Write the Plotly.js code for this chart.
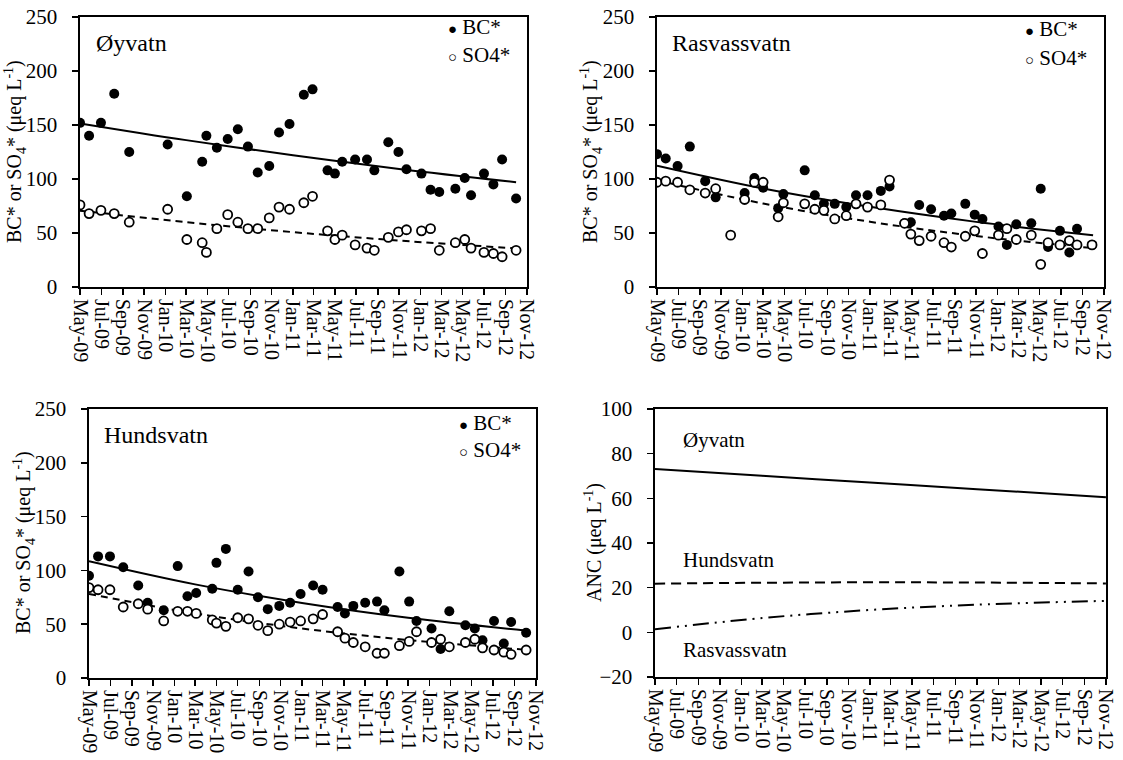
<!DOCTYPE html>
<html>
<head>
<meta charset="utf-8">
<script src="https://cdn.plot.ly/plotly-3.0.1.min.js"></script>
<style>html,body{margin:0;padding:0;background:#fff;}#chart{width:1123px;height:760px;}</style>
</head>
<body>
<div id="chart"></div>
<script>
// ---------- tick labels ----------
const tickDates = ['2009-05-01','2009-07-01','2009-09-01','2009-11-01','2010-01-01','2010-03-01','2010-05-01','2010-07-01','2010-09-01','2010-11-01','2011-01-01','2011-03-01','2011-05-01','2011-07-01','2011-09-01','2011-11-01','2012-01-01','2012-03-01','2012-05-01','2012-07-01','2012-09-01','2012-11-01'];
const tickLabels = ['May-09','Jul-09','Sep-09','Nov-09','Jan-10','Mar-10','May-10','Jul-10','Sep-10','Nov-10','Jan-11','Mar-11','May-11','Jul-11','Sep-11','Nov-11','Jan-12','Mar-12','May-12','Jul-12','Sep-12','Nov-12'];

// ---------- Øyvatn ----------
const oyDates = ['2009-05-01','2009-05-27','2009-06-30','2009-08-07','2009-09-19','2010-01-07','2010-03-03','2010-04-16','2010-04-28','2010-05-28','2010-06-28','2010-07-27','2010-08-25','2010-09-22','2010-10-25','2010-11-22','2010-12-22','2011-02-01','2011-02-26','2011-04-10','2011-05-01','2011-05-22','2011-06-28','2011-08-01','2011-08-22','2011-10-01','2011-10-30','2011-11-22','2012-01-04','2012-01-30','2012-02-24','2012-04-10','2012-05-07','2012-05-25','2012-07-01','2012-07-28','2012-08-22','2012-10-01'];
const oyBC = [152,140,152,179,125,132,84,116,140,129,137,146,130,106,112,143,151,178,183,108,105,116,118,118,108,134,125,109,105,90,88,91,101,85,105,95,118,82];
const oySO4 = [76,68,71,68,60,72,44,41,32,54,67,60,54,54,64,74,72,78,84,52,44,48,39,36,34,46,51,53,52,54,34,41,44,36,32,31,28,34];

// ---------- Rasvassvatn ----------
const raDates = ['2009-05-01','2009-05-26','2009-06-29','2009-08-03','2009-09-16','2009-10-16','2009-11-28','2010-01-07','2010-02-04','2010-03-01','2010-04-13','2010-04-28','2010-06-28','2010-07-27','2010-08-22','2010-09-22','2010-10-25','2010-11-22','2010-12-25','2011-02-01','2011-02-26','2011-04-10','2011-04-28','2011-05-22','2011-06-25','2011-08-01','2011-08-22','2011-10-01','2011-10-28','2011-11-19','2012-01-04','2012-01-28','2012-02-24','2012-04-07','2012-05-04','2012-05-25','2012-06-28','2012-07-25','2012-08-16','2012-09-28'];
const raBC = [123,119,112,130,98,83,null,87,101,92,73,86,108,85,77,77,74,85,85,89,93,59,60,76,72,66,68,77,67,63,56,39,58,59,91,37,52,32,54,39];
const raSO4 = [97,98,97,90,87,91,48,81,97,97,65,78,77,72,71,63,66,77,74,76,99,59,49,43,47,41,37,47,52,31,48,54,44,48,21,41,39,43,39,39];

// ---------- Hundsvatn ----------
const huDates = ['2009-05-01','2009-05-27','2009-06-30','2009-08-07','2009-09-19','2009-10-16','2009-12-01','2010-01-10','2010-02-07','2010-03-04','2010-04-19','2010-05-01','2010-05-28','2010-07-01','2010-08-01','2010-08-28','2010-09-25','2010-10-28','2010-11-28','2010-12-28','2011-02-02','2011-03-01','2011-04-13','2011-05-04','2011-05-28','2011-07-01','2011-08-04','2011-08-25','2011-10-07','2011-11-04','2011-11-25','2012-01-07','2012-02-02','2012-02-27','2012-04-13','2012-05-10','2012-06-01','2012-07-04','2012-08-01','2012-08-22','2012-10-04'];
const huBC = [95,113,113,103,86,70,63,104,76,79,83,107,120,82,99,75,64,67,70,78,86,82,66,60,67,70,71,63,99,71,53,46,27,62,49,46,35,53,32,52,42];
const huSO4 = [84,82,82,66,69,64,53,62,62,60,54,51,48,56,55,49,44,50,52,53,55,59,43,37,33,29,23,23,30,34,43,33,36,29,33,36,28,26,24,22,26];

// ---------- trend lines ----------
const trendDates = ['2009-05-01','2010-03-01','2011-01-01','2011-11-01','2012-10-01'];
const oyBCtrend = [151.5,136,122,109.3,97];
const oySO4trend = [70.7,60,50.8,43,35.8];
const raBCtrend = [112.3,91.2,74.2,60.3,47.9];
const raSO4trend = [98.8,77.3,60.4,47.2,36];
const huBCtrend = [108.5,87,69.8,56,44.2];
const huSO4trend = [78.2,60,46,35.3,26.3];

// ---------- ANC panel ----------
const ancDates = ['2009-05-01','2010-03-01','2011-01-01','2011-11-01','2012-11-01'];
const ancOy = [73.1,70.1,67.1,64.1,60.5];
const ancHu = [21.8,22.2,22.4,22.3,21.9];
const ancRa = [1.4,6.4,10.0,12.4,14.1];

// ---------- layout helpers ----------
const FONT = 'Liberation Serif, Tinos, Times New Roman, serif';
const W = 1123, H = 760;
const px = v => v / W;
const py = v => 1 - v / H;

function xAxis(x0, x1, anchor) {
  return {
    domain: [px(x0), px(x1)], anchor: anchor, type: 'date',
    range: ['2009-05-01', '2012-11-01 06:00'],
    tickmode: 'array', tickvals: tickDates, ticktext: tickLabels, tickangle: 90,
    ticks: 'outside', ticklen: 6, tickwidth: 1.5, tickcolor: '#000',
    showline: true, linecolor: '#000', linewidth: 2, mirror: true,
    showgrid: false, zeroline: false,
    tickfont: {family: FONT, size: 20, color: '#000'}
  };
}
function yAxis(y0, y1, anchor, range, dtick) {
  return {
    domain: [py(y1), py(y0)], anchor: anchor, range: range, dtick: dtick, tick0: 0,
    ticks: 'outside', ticklen: 6, tickwidth: 1.5, tickcolor: '#000',
    ticksuffix: '\u00a0\u00a0',
    showline: true, linecolor: '#000', linewidth: 2, mirror: true,
    showgrid: false, zeroline: false,
    tickfont: {family: FONT, size: 21, color: '#000'}
  };
}

const ytitle = 'BC* or SO<sub>4</sub>* (μeq L<sup>-1</sup>)';
const anctitle = 'ANC (μeq L<sup>-1</sup>)';
const filled = {symbol: 'circle', size: 10, color: '#000'};
const open = {symbol: 'circle', size: 9, color: '#fff', line: {color: '#000', width: 1.8}};

function lakeTraces(xa, ya, dates, bc, so4, bct, so4t) {
  return [
    {type: 'scatter', mode: 'markers', x: dates, y: bc, xaxis: xa, yaxis: ya, marker: filled, name: 'BC*', showlegend: false},
    {type: 'scatter', mode: 'lines', x: trendDates, y: bct, xaxis: xa, yaxis: ya, line: {color: '#000', width: 2, shape: 'spline'}, showlegend: false},
    {type: 'scatter', mode: 'lines', x: trendDates, y: so4t, xaxis: xa, yaxis: ya, line: {color: '#000', width: 2, dash: '7px,5px', shape: 'spline'}, showlegend: false},
    {type: 'scatter', mode: 'markers', x: dates, y: so4, xaxis: xa, yaxis: ya, marker: open, name: 'SO4*', showlegend: false}
  ];
}

const data = [].concat(
  lakeTraces('x', 'y', oyDates, oyBC, oySO4, oyBCtrend, oySO4trend),
  lakeTraces('x2', 'y2', raDates, raBC, raSO4, raBCtrend, raSO4trend),
  lakeTraces('x3', 'y3', huDates, huBC, huSO4, huBCtrend, huSO4trend),
  [
    {type: 'scatter', mode: 'lines', x: ancDates, y: ancOy, xaxis: 'x4', yaxis: 'y4', line: {color: '#000', width: 2, shape: 'spline'}, name: 'Øyvatn', showlegend: false},
    {type: 'scatter', mode: 'lines', x: ancDates, y: ancHu, xaxis: 'x4', yaxis: 'y4', line: {color: '#000', width: 2, dash: '10px,6px', shape: 'spline'}, name: 'Hundsvatn', showlegend: false},
    {type: 'scatter', mode: 'lines', x: ancDates, y: ancRa, xaxis: 'x4', yaxis: 'y4', line: {color: '#000', width: 2, dash: '16px,6px,2px,6px,2px,6px', shape: 'spline'}, name: 'Rasvassvatn', showlegend: false}
  ]
);

function label(text, x, y, size) {
  return {text: text, xref: 'paper', yref: 'paper', x: px(x), y: py(y), xanchor: 'left', yanchor: 'middle',
          showarrow: false, font: {family: FONT, size: size, color: '#000'}};
}
function vtitle(text, x, y) {
  return {text: text, xref: 'paper', yref: 'paper', x: px(x), y: py(y), xanchor: 'center', yanchor: 'middle',
          textangle: -90, showarrow: false, font: {family: FONT, size: 20, color: '#000'}};
}
function legendItem(text, glyph, x, y) {
  return {text: '<span style="font-size:15px">' + glyph + '</span> ' + text, xref: 'paper', yref: 'paper',
          x: px(x), y: py(y), xanchor: 'left', yanchor: 'middle', showarrow: false,
          font: {family: FONT, size: 21, color: '#000'}};
}

const layout = {
  width: W, height: H, margin: {l: 0, r: 0, t: 0, b: 0},
  paper_bgcolor: '#fff', plot_bgcolor: '#fff', showlegend: false,
  font: {family: FONT, color: '#000'},
  xaxis: xAxis(80, 527, 'y'),
  yaxis: yAxis(17, 287, 'x', [0, 250], 50),
  xaxis2: xAxis(657, 1104, 'y2'),
  yaxis2: yAxis(17, 287, 'x2', [0, 250], 50),
  xaxis3: xAxis(89, 536, 'y3'),
  yaxis3: yAxis(409, 678, 'x3', [0, 250], 50),
  xaxis4: xAxis(655, 1106, 'y4'),
  yaxis4: yAxis(409, 677, 'x4', [-20, 100], 20),
  annotations: [
    vtitle(ytitle, 15, 152),
    vtitle(ytitle, 591, 152),
    vtitle(ytitle, 24, 543),
    vtitle(anctitle, 593, 543),
    label('Øyvatn', 94, 43, 24),
    label('Rasvassvatn', 670, 43, 24),
    label('Hundsvatn', 102, 435, 24),
    label('Øyvatn', 681, 440, 21),
    label('Hundsvatn', 681, 560, 21),
    label('Rasvassvatn', 681, 650, 21),
    legendItem('BC*', '●', 446, 27),
    legendItem('SO4*', '○', 446, 55),
    legendItem('BC*', '●', 1023, 29),
    legendItem('SO4*', '○', 1023, 58),
    legendItem('BC*', '●', 457, 423),
    legendItem('SO4*', '○', 457, 450)
  ]
};

Plotly.newPlot('chart', data, layout, {staticPlot: true, displayModeBar: false});
</script>
</body>
</html>
